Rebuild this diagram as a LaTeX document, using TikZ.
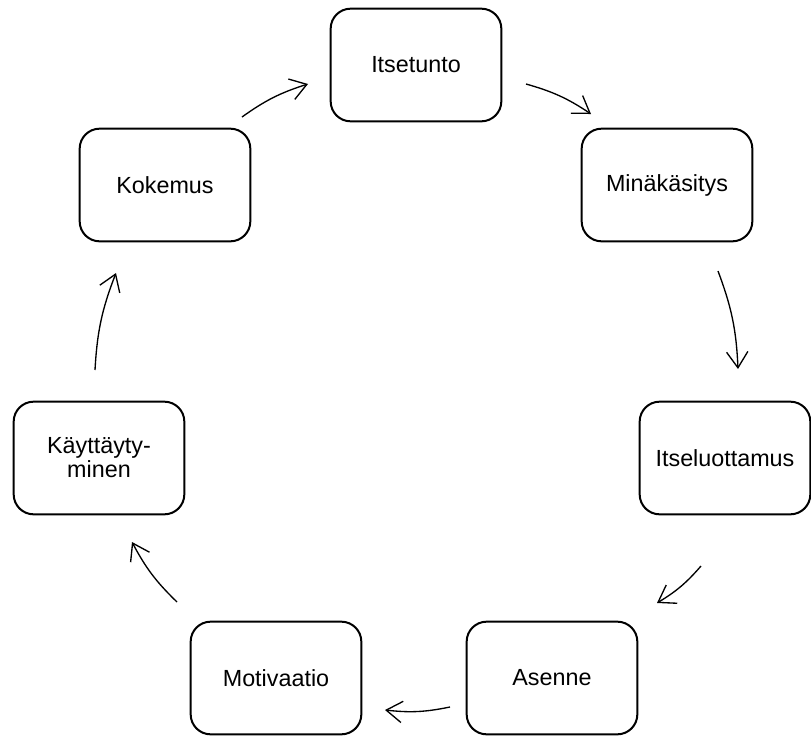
\documentclass[tikz,border=0pt]{standalone}
\usepackage{fontspec}
\setmainfont{Liberation Sans}
\usetikzlibrary{arrows.meta}
\begin{document}
\begin{tikzpicture}[x=0.75pt,y=-0.75pt,
  stage/.style={draw, line width=1.5pt, rounded corners=15pt,
    minimum width=128pt, minimum height=84.5pt, inner sep=2pt,
    align=center, font=\fontsize{17.5}{18}\selectfont},
  flow/.style={line width=1pt, -{Straight Barb[length=12pt,width=16pt]}, bend left=9}]
\useasboundingbox (0,0) rectangle (811,736);

% the seven stages of the cycle
\node[stage] (itsetunto) at (416,65) {Itsetunto};
\node[stage] (minakasitys) at (667,185) {Minäkäsitys};
\node[stage] (itseluottamus) at (725,458) {Itseluottamus};
\node[stage] (asenne) at (552,678) {Asenne};
\node[stage] (motivaatio) at (276,678) {Motivaatio};
\node[stage] (kayttaytyminen) at (99,458) {Käyttäyty-\\minen};
\node[stage] (kokemus) at (165,185) {Kokemus};

% free ends of the arrows between the stages
\coordinate (a1) at (242,117); \coordinate (b1) at (308,84);
\coordinate (a2) at (526,84);  \coordinate (b2) at (591,114);
\coordinate (a3) at (718,271); \coordinate (b3) at (738,369);
\coordinate (a4) at (701,566); \coordinate (b4) at (657,603);
\coordinate (a5) at (450,707); \coordinate (b5) at (385,710);
\coordinate (a6) at (177,602); \coordinate (b6) at (132,542);
\coordinate (a7) at (95,370);  \coordinate (b7) at (116,273);

\draw[flow] (a1) to (b1);
\draw[flow] (a2) to (b2);
\draw[flow] (a3) to (b3);
\draw[flow] (a4) to (b4);
\draw[flow] (a5) to (b5);
\draw[flow] (a6) to (b6);
\draw[flow] (a7) to (b7);
\end{tikzpicture}
\end{document}
